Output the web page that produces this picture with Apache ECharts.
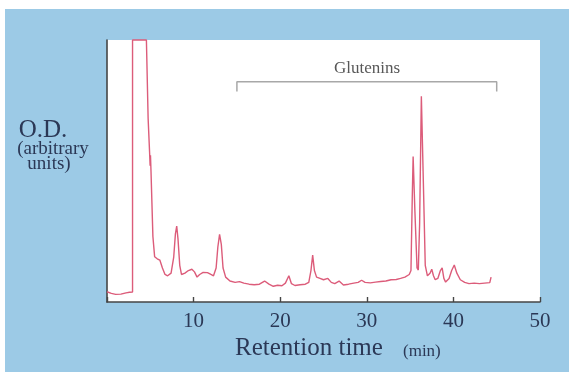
<!DOCTYPE html>
<html>
<head>
<meta charset="utf-8">
<script src="https://cdn.jsdelivr.net/npm/echarts@6/dist/echarts.min.js"></script>
<style>
  html, body { margin: 0; padding: 0; background: #ffffff; }
  #chart {
    width: 569px; height: 372px;
    background: linear-gradient(#9ccae6, #9ccae6) 5px 9px / 564px 363px no-repeat, #ffffff;
  }
</style>
</head>
<body>
<div id="chart"></div>
<script>
// Chromatogram: retention time (min) vs optical density (arbitrary units)
const retentionTime = [
  0, 0.5, 1.0, 1.6, 2.2, 2.6, 2.95, 2.95, 4.55, 4.75, 4.92, 4.98, 5.02, 5.08, 5.3, 5.5,
  5.8, 6.1, 6.4, 6.7, 7.0, 7.4, 7.7, 7.9, 8.05, 8.2, 8.4, 8.6, 9.0, 9.4,
  9.8, 10.1, 10.4, 10.7, 11.1, 11.6, 12.0, 12.3, 12.6, 12.8, 13.0, 13.2, 13.4, 13.7,
  14.2, 14.8, 15.3, 15.8, 16.4, 17.0, 17.6, 18.2, 18.7, 19.2, 19.7, 20.2, 20.6, 21.0,
  21.3, 21.7, 22.3, 22.9, 23.3, 23.55, 23.75, 23.95, 24.2, 24.6, 25.0, 25.5, 25.9, 26.3,
  26.8, 27.3, 27.9, 28.5, 29.0, 29.4, 29.8, 30.4, 31.0, 31.6, 32.2, 32.8, 33.4, 33.9,
  34.4, 34.9, 35.1, 35.25, 35.35, 35.55, 35.8, 35.95, 36.1, 36.3, 36.5, 36.75, 37.0, 37.3,
  37.5, 37.7, 37.9, 38.2, 38.5, 38.7, 38.9, 39.1, 39.5, 39.8, 40.1, 40.4, 40.8, 41.3,
  41.8, 42.4, 43.0, 43.6, 44.2, 44.35
];
const opticalDensity = [
  3.9, 3.3, 2.9, 3.0, 3.5, 3.7, 3.8, 100, 100, 70, 57, 52, 56, 50, 25, 17.3,
  16.5, 16, 13, 10.5, 10, 11, 17, 26, 29, 24, 14, 10.5, 11, 12,
  12.5, 11.5, 9.5, 10.5, 11.3, 11.2, 10.5, 10, 13, 21, 25.8, 22, 13, 9.5,
  8, 7.5, 7.8, 7.2, 6.8, 6.6, 6.8, 8, 6.8, 6.0, 6.4, 6.2, 7.2, 10,
  7, 6.3, 6.6, 6.8, 7.5, 12, 17.9, 12, 9.5, 9, 8.5, 9, 7.5, 7,
  8, 6.5, 6.8, 7.2, 7.5, 8.3, 7.5, 7.3, 7.6, 7.8, 8.0, 8.5, 8.6, 9.0,
  9.5, 10.5, 12, 40, 55.5, 35, 13, 12.2, 30, 78.5, 50, 14, 10, 11,
  12.5, 10, 8.5, 9, 12, 13, 9, 7.6, 9, 12, 14.1, 11, 8.5, 7.5,
  7, 7.2, 7.0, 7.2, 7.4, 9.5
];
const xTicks = [10, 20, 30, 40, 50];
// Glutenin elution window (min) and bracket height (OD units)
const gluteninRange = [15, 45];
const bracketLevel = [80.3, 84.1];

const ink = '#2b3856';
const trace = retentionTime.map((t, i) => [t, opticalDensity[i]]);
const bracket = [
  [gluteninRange[0], bracketLevel[0]],
  [gluteninRange[0], bracketLevel[1]],
  [gluteninRange[1], bracketLevel[1]],
  [gluteninRange[1], bracketLevel[0]]
];

const chart = echarts.init(document.getElementById('chart'), null, { renderer: 'canvas' });
chart.setOption({
  animation: false,
  grid: {
    left: 107, right: 29, top: 40, bottom: 70,
    show: true, backgroundColor: '#ffffff', borderWidth: 0
  },
  xAxis: {
    type: 'value', min: 0, max: 50, interval: 10,
    axisLine: { lineStyle: { color: '#454545', width: 1.6 } },
    axisTick: { inside: true, length: 5, lineStyle: { color: '#454545', width: 1.4 } },
    splitLine: { show: false },
    axisLabel: {
      margin: 9,
      fontFamily: 'Liberation Serif', fontSize: 21, color: ink,
      formatter: v => (xTicks.indexOf(v) >= 0 ? String(v) : '')
    }
  },
  yAxis: {
    type: 'value', min: 0, max: 100,
    axisLine: { show: true, lineStyle: { color: '#454545', width: 1.6 } },
    axisTick: { show: false },
    axisLabel: { show: false },
    splitLine: { show: false }
  },
  series: [
    {
      name: 'OD', type: 'line', data: trace, showSymbol: false, clip: false,
      lineStyle: { color: '#dc5c7a', width: 1.4 }, z: 3
    },
    {
      name: 'Glutenins', type: 'line', data: bracket, showSymbol: false,
      lineStyle: { color: '#a8a8a8', width: 1.5 }, z: 2
    }
  ],
  graphic: [
    { type: 'text', x: 367, y: 69, style: {
        text: 'Glutenins', font: '17px "Liberation Serif"', fill: '#585858',
        align: 'center', verticalAlign: 'middle' } },
    { type: 'text', x: 43, y: 130, style: {
        text: 'O.D.', font: '25px "Liberation Serif"', fill: ink,
        align: 'center', verticalAlign: 'middle' } },
    { type: 'text', x: 53, y: 149, style: {
        text: '(arbitrary', font: '19px "Liberation Serif"', fill: ink,
        align: 'center', verticalAlign: 'middle' } },
    { type: 'text', x: 49, y: 164, style: {
        text: 'units)', font: '19px "Liberation Serif"', fill: ink,
        align: 'center', verticalAlign: 'middle' } },
    { type: 'text', x: 235, y: 348, style: {
        text: 'Retention time', font: '25px "Liberation Serif"', fill: ink,
        align: 'left', verticalAlign: 'middle' } },
    { type: 'text', x: 403, y: 352, style: {
        text: '(min)', font: '17px "Liberation Serif"', fill: ink,
        align: 'left', verticalAlign: 'middle' } }
  ]
});
</script>
</body>
</html>
